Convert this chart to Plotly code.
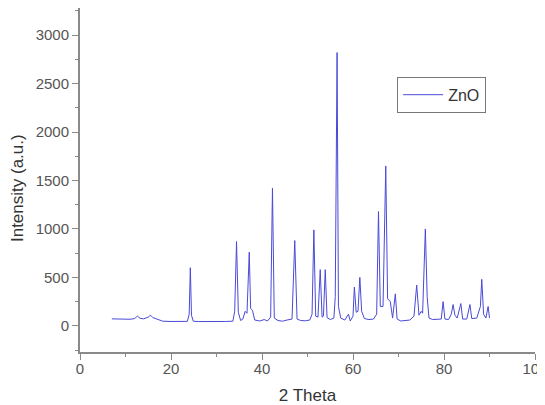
import plotly.graph_objects as go

two_theta = [7.0, 8, 9, 10, 11, 12, 12.6, 13.2, 14, 15, 15.5, 16, 17, 17.8, 18.2, 20, 22, 23.6,
             24.0, 24.25, 24.5, 24.9, 26, 28, 30, 32, 33.6, 34.0, 34.4, 34.8, 35.3, 35.8, 36.3,
             36.7, 37.2, 37.5, 37.9, 38.4, 39.5, 40.5, 41.2, 41.9, 42.3, 42.7, 43.5, 44.5, 45.5,
             46.6, 47.2, 47.7, 48.5, 49.5, 50.5, 51.0, 51.4, 51.8, 52.3, 52.8, 53.2, 53.5, 53.9,
             54.3, 55, 55.8, 56.1, 56.5, 56.8, 57.3, 58.2, 59.0, 59.4, 60.0, 60.3, 60.7, 61.1,
             61.5, 61.9, 62.5, 63.5, 64.5, 65.2, 65.6, 66.0, 66.6, 67.2, 67.6, 68.2, 68.7, 69.3,
             69.7, 70.5, 71.5, 72.5, 73.4, 74.0, 74.5, 75.0, 75.3, 75.9, 76.3, 76.7, 77.5, 78.5,
             79.4, 79.8, 80.2, 81, 81.6, 82.0, 82.4, 82.9, 83.7, 84.1, 85, 85.7, 86.1, 87.2,
             88.0, 88.3, 88.7, 89.2, 89.7, 90.0]
intensity = [72, 70, 68, 70, 68, 75, 100, 78, 72, 90, 110, 85, 70, 62, 48, 45, 44, 46,
             120, 600, 110, 48, 44, 43, 44, 45, 48, 150, 870, 140, 55, 70, 150,
             130, 760, 180, 160, 60, 50, 65, 50, 90, 1420, 80, 55, 48, 60,
             70, 880, 70, 55, 52, 60, 120, 990, 100, 90, 580, 90, 100, 580,
             85, 65, 80, 300, 2820, 200, 80, 60, 120, 50, 100, 400, 140, 150,
             500, 150, 75, 65, 70, 120, 1180, 200, 200, 1650, 280, 250, 80, 330,
             70, 50, 55, 60, 100, 420, 110, 150, 130, 1000, 300, 80, 65, 65,
             70, 250, 70, 65, 120, 220, 110, 80, 230, 70, 70, 220, 75, 80,
             200, 480, 120, 80, 200, 80]

fig = go.Figure()
fig.add_trace(go.Scatter(x=two_theta, y=intensity, mode="lines", name="ZnO",
                         line=dict(color="#4a4ad8", width=1)))

font = "Liberation Sans, Arial, sans-serif"
axis_common = dict(showline=True, linecolor="#8a8a8a", linewidth=2, ticks="outside",
                   ticklen=6, tickcolor="#8a8a8a", tickwidth=1, showgrid=False, zeroline=False,
                   automargin=False, ticklabeloverflow="allow",
                   tickfont=dict(family=font, size=15, color="#555555"),
                   minor=dict(ticks="outside", ticklen=3, tickcolor="#8a8a8a", showgrid=False))

# page body has an 8px margin, so the figure is sized to fit inside the window
fig.update_layout(
    width=537, height=397,
    margin=dict(l=72, r=10, t=0, b=53),
    paper_bgcolor="white", plot_bgcolor="white",
    showlegend=True,
    legend=dict(x=0.697, y=0.80, xanchor="left", yanchor="top", itemwidth=40,
                bordercolor="#777777", borderwidth=1, tracegroupgap=0,
                font=dict(family=font, size=16, color="#333333")),
    xaxis=dict(range=[0, 100], dtick=20, ticklabelstandoff=-4,
               title=dict(text="2 Theta", font=dict(family=font, size=17, color="#333333")),
               **axis_common),
    yaxis=dict(range=[-270, 3280], dtick=500, **axis_common),
    annotations=[dict(text="Intensity (a.u.)", xref="paper", yref="paper",
                      x=-0.136, y=0.477, xanchor="center", yanchor="middle",
                      textangle=-90, showarrow=False,
                      font=dict(family=font, size=17, color="#333333"))],
)
fig.update_xaxes(minor_dtick=10)
fig.update_yaxes(minor_dtick=250)

fig.write_html("out.html")
